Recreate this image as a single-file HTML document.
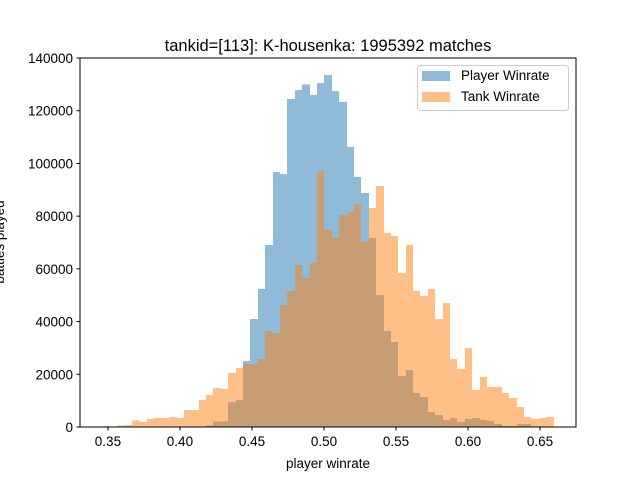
<!DOCTYPE html>
<html><head><meta charset="utf-8"><style>
body{margin:0;background:#fff;}
svg{display:block;font-family:"Liberation Sans","DejaVu Sans",sans-serif;}
</style></head><body>
<svg id="chart" width="640" height="480" viewBox="0 0 640 480">
<rect width="640" height="480" fill="#fff"/>
<g id="bars-player" shape-rendering="crispEdges"></g>
<g id="bars-tank" shape-rendering="crispEdges"></g>
<rect x="80" y="58" width="496" height="369" fill="none" stroke="#000" stroke-width="1"/>
<g id="xticks"></g>
<g id="yticks"></g>
<text x="328" y="51" font-size="16.5" text-anchor="middle">tankid=[113]: K-housenka: 1995392 matches</text>
<text x="328" y="468" font-size="13.5" text-anchor="middle">player winrate</text>
<text transform="translate(4,242) rotate(-90)" font-size="13.5" text-anchor="middle">battles played</text>
<g>
<rect x="417.5" y="65.5" width="151" height="45" rx="3" fill="#fff" fill-opacity="0.8" stroke="#ccc"/>
<rect x="422" y="71" width="28" height="10" fill="#1f77b4" fill-opacity="0.5"/>
<text x="461" y="80" font-size="13.5">Player Winrate</text>
<rect x="422" y="92" width="28" height="10" fill="#ff7f0e" fill-opacity="0.5"/>
<text x="461" y="101" font-size="13.5">Tank Winrate</text>
</g>
</svg>
<script>
const binStart = 0.3463;
const binEnd = 0.6594;
const playerCounts = [0,0,0,0,0,0,0,0,0,0,0,0,0,0,500,2000,2000,9500,10200,25000,41000,52400,69000,96700,96000,124400,127800,130000,126000,130500,133500,127500,123300,106200,94800,88800,71700,50000,36400,32200,19300,21600,12900,11400,5700,4600,2700,3400,1900,3000,3400,2700,2300,1100,400,400,1100,1100,0,0,0];
const tankCounts = [400,0,500,800,2400,1900,3000,3400,3400,3800,3400,6400,6400,10200,12100,14800,14400,20500,22400,23900,23900,25800,36400,35700,46300,51600,61500,56500,62200,97100,74700,71700,80400,81600,84600,70200,83100,91400,73600,72500,58400,69000,51600,49700,52400,41000,47000,25800,22000,30000,14000,19000,15200,15200,12900,11000,7600,3800,3000,3400,3800];
const xTicks = [0.35,0.40,0.45,0.50,0.55,0.60,0.65];
const yTicks = [0,20000,40000,60000,80000,100000,120000,140000];

const NS="http://www.w3.org/2000/svg";
const X0=0.3306, X1=0.675, PX0=80, PX1=576;
const Y0=0, Y1=140000, PY0=427, PY1=58;
function xs(v){return PX0+(v-X0)/(X1-X0)*(PX1-PX0);}
function ys(v){return PY0-(v-Y0)/(Y1-Y0)*(PY0-PY1);}

function drawBars(gid,counts,color,name){
  const g=document.getElementById(gid);
  const n=counts.length, w=(binEnd-binStart)/n;
  counts.forEach((c,i)=>{
    if(c<=0) return;
    const r=document.createElementNS(NS,"rect");
    const xa=Math.round(xs(binStart+i*w)), xb=Math.round(xs(binStart+(i+1)*w));
    r.setAttribute("x",xa);
    r.setAttribute("width",xb-xa);
    r.setAttribute("y",ys(c));
    r.setAttribute("height",ys(0)-ys(c));
    r.setAttribute("fill",color);
    r.setAttribute("fill-opacity","0.5");
    
    
    g.appendChild(r);
  });
}
drawBars("bars-player",playerCounts,"#1f77b4","player");
drawBars("bars-tank",tankCounts,"#ff7f0e","tank");

const gx=document.getElementById("xticks");
xTicks.forEach(t=>{
  const x=xs(t);
  const l=document.createElementNS(NS,"line");
  l.setAttribute("x1",x);l.setAttribute("x2",x);l.setAttribute("y1",427);l.setAttribute("y2",430.5);
  l.setAttribute("stroke","#000");
  
  
  gx.appendChild(l);
  const tx=document.createElementNS(NS,"text");
  tx.setAttribute("x",x);tx.setAttribute("y",446);tx.setAttribute("font-size","13.5");tx.setAttribute("text-anchor","middle");
  tx.textContent=t.toFixed(2);
  
  
  gx.appendChild(tx);
});
const gy=document.getElementById("yticks");
yTicks.forEach(t=>{
  const y=ys(t);
  const l=document.createElementNS(NS,"line");
  l.setAttribute("x1",76.5);l.setAttribute("x2",80);l.setAttribute("y1",y);l.setAttribute("y2",y);
  l.setAttribute("stroke","#000");
  
  
  gy.appendChild(l);
  const tx=document.createElementNS(NS,"text");
  tx.setAttribute("x",73);tx.setAttribute("y",y+5);tx.setAttribute("font-size","13.5");tx.setAttribute("text-anchor","end");
  tx.textContent=String(t);
  
  
  gy.appendChild(tx);
});
</script>
</body></html>
